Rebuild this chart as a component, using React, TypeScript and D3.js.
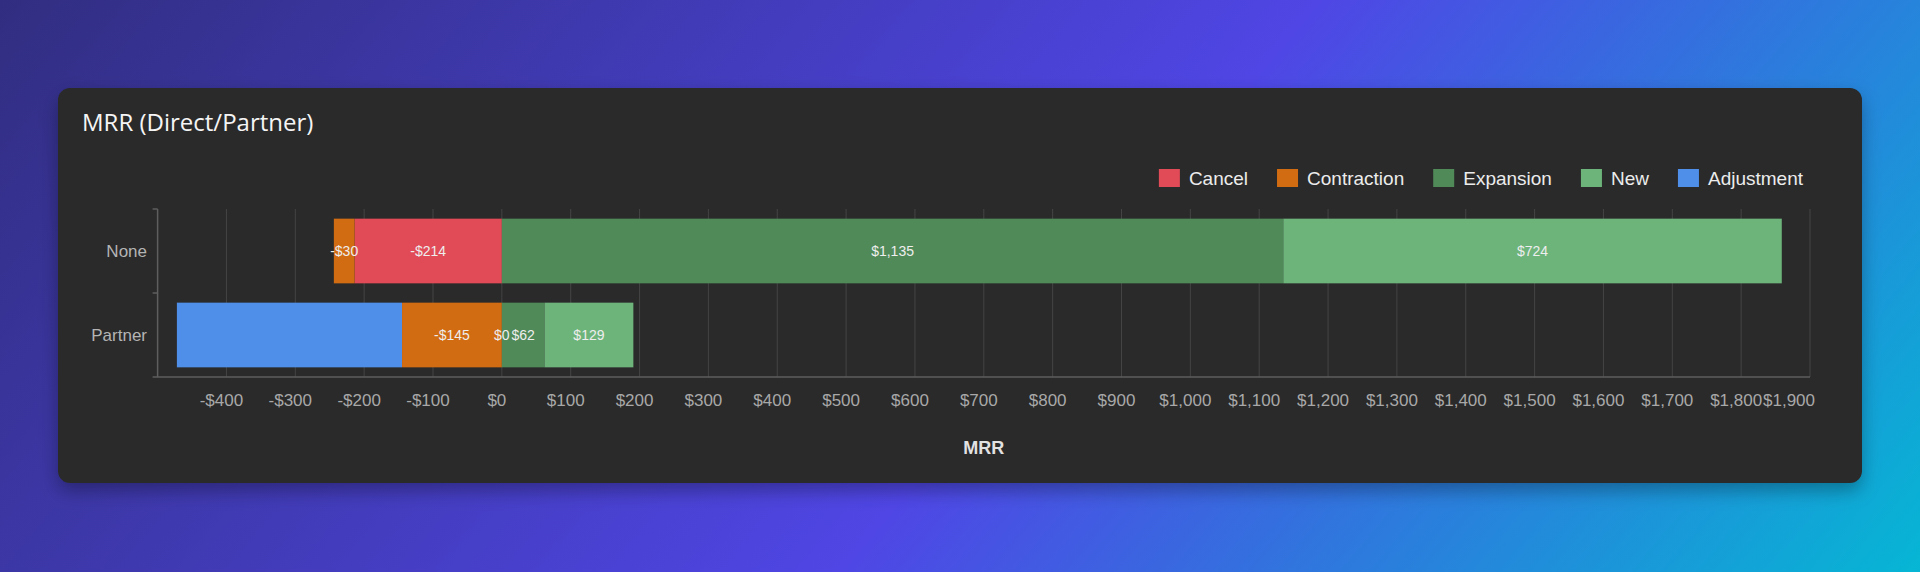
import React, { useEffect, useRef } from 'react'
import * as d3 from 'd3'

const categories = ['None', 'Partner']
const seriesNames = ['Cancel', 'Contraction', 'Expansion', 'New', 'Adjustment']
const seriesColors = ['#e14b57', '#d26c12', '#508a58', '#6db47b', '#4f8fea']
const cancelValues = [-214, 0]
const contractionValues = [-30, -145]
const expansionValues = [1135, 62]
const newValues = [724, 129]
const adjustmentValues = [0, -327]
const labelledSeries = ['Cancel', 'Contraction', 'Expansion', 'New']
const xTickValues = [
  -400, -300, -200, -100, 0, 100, 200, 300, 400, 500, 600, 700, 800, 900, 1000, 1100, 1200, 1300, 1400, 1500, 1600,
  1700, 1800, 1900,
]
const xDomain = [-500, 1900]

const money = (v: number) => (v < 0 ? `-$${d3.format(',')(-v)}` : `$${d3.format(',')(v)}`)

const App: React.FC = () => {
  const svgRef = useRef<SVGSVGElement>(null)

  useEffect(() => {
    if (!svgRef.current) return
    const width = 1920
    const height = 572
    const card = { x: 58, y: 88, w: 1804, h: 395 }
    const plot = { left: 157.6, right: 1810, top: 209, bottom: 377 }

    const rows = categories.map((c, i) => ({
      category: c,
      Cancel: cancelValues[i],
      Contraction: contractionValues[i],
      Expansion: expansionValues[i],
      New: newValues[i],
      Adjustment: adjustmentValues[i],
    }))

    const stacked = d3
      .stack<any>()
      .keys(seriesNames)
      .offset(d3.stackOffsetDiverging)(rows)

    const x = d3.scaleLinear().domain(xDomain).range([plot.left, plot.right])
    const y = d3
      .scaleBand()
      .domain(categories)
      .range([plot.top, plot.bottom])
      .paddingInner(0.23)
      .paddingOuter(0.115)
    const color = d3.scaleOrdinal<string, string>().domain(seriesNames).range(seriesColors)

    const svg = d3.select(svgRef.current)
    svg.selectAll('*').remove()
    svg.attr('width', width).attr('height', height)

    // background gradient + card shadow
    const defs = svg.append('defs')
    const grad = defs
      .append('linearGradient')
      .attr('id', 'bg')
      .attr('gradientUnits', 'userSpaceOnUse')
      .attr('x1', 256)
      .attr('y1', -305)
      .attr('x2', 1664)
      .attr('y2', 877)
    grad.append('stop').attr('offset', '0%').attr('stop-color', '#312e81')
    grad.append('stop').attr('offset', '55%').attr('stop-color', '#4f46e5')
    grad.append('stop').attr('offset', '100%').attr('stop-color', '#06b6d4')
    const shadow = defs.append('filter').attr('id', 'shadow').attr('x', '-5%').attr('y', '-10%').attr('width', '110%').attr('height', '130%')
    shadow
      .append('feDropShadow')
      .attr('dx', 0)
      .attr('dy', 8)
      .attr('stdDeviation', 9)
      .attr('flood-color', '#000')
      .attr('flood-opacity', 0.3)

    svg.append('rect').attr('width', width).attr('height', height).attr('fill', 'url(#bg)')
    svg
      .append('rect')
      .attr('x', card.x)
      .attr('y', card.y)
      .attr('width', card.w)
      .attr('height', card.h)
      .attr('rx', 12)
      .attr('fill', '#2a2a2a')
      .attr('filter', 'url(#shadow)')

    // title
    svg
      .append('text')
      .attr('x', 82)
      .attr('y', 131)
      .attr('fill', '#f5f5f5')
      .style('font-family', '"Open Sans", sans-serif')
      .style('font-size', '24px')
      .style('font-weight', 500)
      .text('MRR (Direct/Partner)')

    const g = svg.append('g').style('font-family', 'Arial, "Liberation Sans", sans-serif')

    // gridlines
    g.append('g')
      .selectAll('line')
      .data(xTickValues)
      .join('line')
      .attr('x1', (d) => x(d))
      .attr('x2', (d) => x(d))
      .attr('y1', plot.top)
      .attr('y2', plot.bottom)
      .attr('stroke', '#444')
      .attr('stroke-width', 1)

    // bars
    const layers = g
      .append('g')
      .selectAll('g')
      .data(stacked)
      .join('g')
      .attr('fill', (d) => color(d.key))
    layers
      .selectAll('rect')
      .data((d) => d)
      .join('rect')
      .attr('x', (d) => x(Math.min(d[0], d[1])))
      .attr('width', (d) => Math.abs(x(d[1]) - x(d[0])))
      .attr('y', (d) => y(d.data.category)!)
      .attr('height', y.bandwidth())

    // bar labels
    const labels = g.append('g')
    stacked
      .filter((s) => labelledSeries.includes(s.key))
      .forEach((s) => {
        labels
          .append('g')
          .selectAll('text')
          .data(s)
          .join('text')
          .attr('x', (d) => x((d[0] + d[1]) / 2))
          .attr('y', (d) => y(d.data.category)! + y.bandwidth() / 2 + 5)
          .attr('text-anchor', 'middle')
          .attr('fill', '#eeeeee')
          .style('font-size', '14px')
          .text((d) => money(d.data[s.key]))
      })

    // axes
    g.append('line')
      .attr('x1', plot.left - 5)
      .attr('x2', plot.right)
      .attr('y1', plot.bottom)
      .attr('y2', plot.bottom)
      .attr('stroke', '#5e5e5e')
      .attr('stroke-width', 1.5)
    g.append('line')
      .attr('x1', plot.left)
      .attr('x2', plot.left)
      .attr('y1', plot.top)
      .attr('y2', plot.bottom)
      .attr('stroke', '#5e5e5e')
      .attr('stroke-width', 1.5)
    const boundaries = [plot.top, ...categories.slice(1).map((c) => y(c)! - (y.step() - y.bandwidth()) / 2)]
    g.append('g')
      .selectAll('line')
      .data(boundaries)
      .join('line')
      .attr('x1', plot.left - 5)
      .attr('x2', plot.left)
      .attr('y1', (d) => d)
      .attr('y2', (d) => d)
      .attr('stroke', '#5e5e5e')
      .attr('stroke-width', 1.5)

    g.append('g')
      .selectAll('text')
      .data(categories)
      .join('text')
      .attr('x', 147)
      .attr('y', (d) => y(d)! + y.bandwidth() / 2 + 6)
      .attr('text-anchor', 'end')
      .attr('fill', '#b4b4b4')
      .style('font-size', '17px')
      .text((d) => d)

    // tick labels sit a little left of their gridlines; the last one is pulled inside
    g.append('g')
      .selectAll('text')
      .data(xTickValues)
      .join('text')
      .attr('x', (d, i) => (i === xTickValues.length - 1 ? x(d) + 5 : x(d) - 5))
      .attr('y', 406)
      .attr('text-anchor', (d, i) => (i === xTickValues.length - 1 ? 'end' : 'middle'))
      .attr('fill', '#a8a8a8')
      .style('font-size', '17px')
      .text((d) => money(d))

    g.append('text')
      .attr('x', (plot.left + plot.right) / 2)
      .attr('y', 454)
      .attr('text-anchor', 'middle')
      .attr('fill', '#e2e2e2')
      .style('font-size', '18px')
      .style('font-weight', 'bold')
      .text('MRR')

    // legend, right-aligned
    const legend = g.append('g')
    const items = seriesNames.map((name) => {
      const item = legend.append('g')
      item.append('rect').attr('width', 21).attr('height', 18).attr('y', -9).attr('fill', color(name))
      const t = item
        .append('text')
        .attr('x', 30)
        .attr('y', 7)
        .attr('fill', '#ececec')
        .style('font-size', '19px')
        .text(name)
      return { item, w: 30 + (t.node() as SVGTextElement).getComputedTextLength() }
    })
    const gap = 29
    const total = d3.sum(items, (d) => d.w) + gap * (items.length - 1)
    let cx = 1803 - total
    items.forEach((d) => {
      d.item.attr('transform', `translate(${cx},178)`)
      cx += d.w + gap
    })
  }, [])

  return <svg ref={svgRef} style={{ position: 'absolute', left: 0, top: 0, display: 'block' }}></svg>
}

export default App
